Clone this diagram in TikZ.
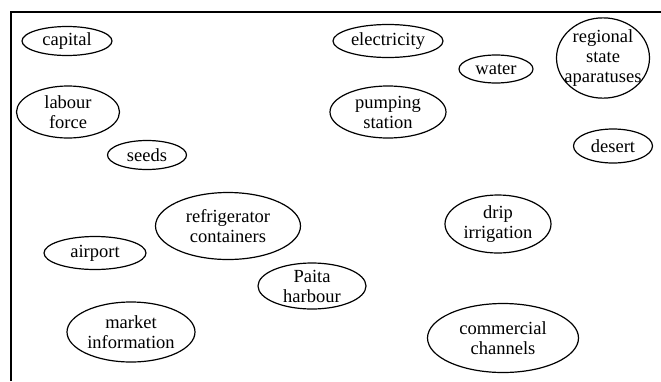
\documentclass[tikz,border=0pt]{standalone}
\usepackage{fontspec}
\setmainfont{Liberation Serif}
\usetikzlibrary{shapes.geometric}

\tikzset{
    factor/.style={ellipse, draw, line width=1.2pt, inner sep=0pt, align=center,
        font=\fontsize{18.5}{20}\selectfont}
}

\begin{document}
\begin{tikzpicture}[x=1pt, y=-1pt]
    \useasboundingbox (0,0) rectangle (661,381);
    \draw[line width=1.3pt] (11,381) -- (11,12) -- (661,12);

    \node[factor, minimum width=90, minimum height=29] (capital) at (67,41) {capital};
    \node[factor, minimum width=110, minimum height=33] (electricity) at (388,41) {electricity};
    \node[factor, minimum width=74, minimum height=28] (water) at (496,69) {water};
    % text runs over the edge here
    \node[factor, inner xsep=-6pt, minimum width=93, minimum height=80] (regional) at (603,58) {regional\\state\\aparatuses};
    \node[factor, minimum width=103, minimum height=52] (labour) at (68,112) {labour\\force};
    \node[factor, minimum width=116, minimum height=52] (pumping) at (388,112) {pumping\\station};
    \node[factor, minimum width=79, minimum height=29] (seeds) at (147,155) {seeds};
    \node[factor, minimum width=79, minimum height=34] (desert) at (613,146) {desert};
    \node[factor, minimum width=145, minimum height=67] (fridge) at (228,226) {refrigerator\\containers};
    \node[factor, minimum width=102, minimum height=33] (airport) at (95,253) {airport};
    \node[factor, minimum width=108, minimum height=46] (paita) at (312,286) {Paita\\harbour};
    \node[factor, minimum width=106, minimum height=58] (drip) at (498,224) {drip\\irrigation};
    \node[factor, minimum width=128, minimum height=60] (market) at (131,332) {market\\information};
    \node[factor, minimum width=151, minimum height=69] (commercial) at (503,338) {commercial\\channels};
\end{tikzpicture}
\end{document}
